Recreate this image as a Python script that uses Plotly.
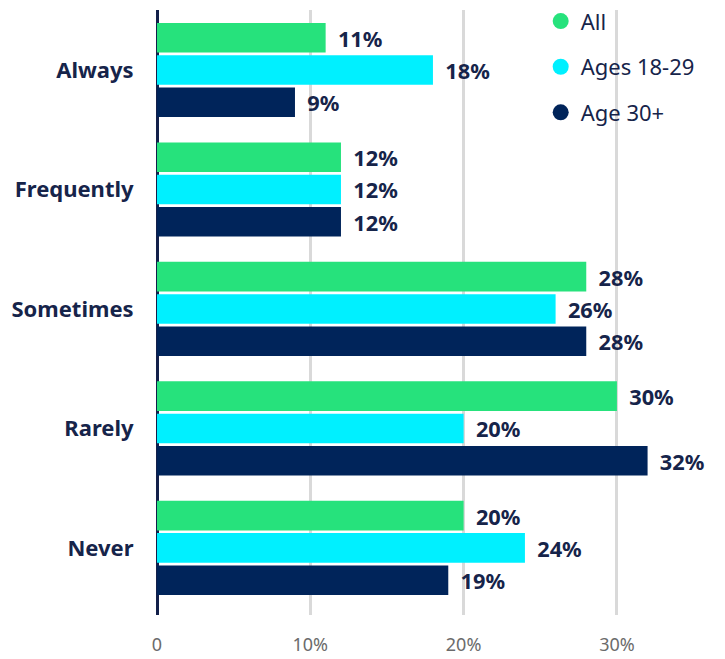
import plotly.graph_objects as go

categories = ["Always", "Frequently", "Sometimes", "Rarely", "Never"]
series_names = ["All", "Ages 18-29", "Age 30+"]
all_vals = [11, 12, 28, 30, 20]
young_vals = [18, 12, 26, 20, 24]
older_vals = [9, 12, 28, 32, 19]
tick_vals = [0, 10, 20, 30]
tick_text = ["0", "10%", "20%", "30%"]

colors = ["#26e27c", "#00f0ff", "#00245a"]
dark = "#16244a"

fig = go.Figure()
for name, vals, col in zip(series_names, [all_vals, young_vals, older_vals], colors):
    fig.add_trace(go.Bar(
        y=categories, x=vals, orientation="h", name=name,
        marker=dict(color=col, line=dict(width=0)),
        text=["\u00a0\u2009" + f"{v}%" for v in vals],
        texttemplate="%{text}", textposition="outside", cliponaxis=False,
        textfont=dict(family="Noto Sans", size=22, color=dark, weight="bold"),
        showlegend=False, hoverinfo="skip",
    ))

for i, (name, col) in enumerate(zip(series_names, colors)):
    fig.add_trace(go.Scatter(
        x=[None], y=[None], mode="markers", name=name, legendgroup=f"g{i}",
        marker=dict(color=col, size=20, symbol="circle"),
    ))

fig.update_layout(
    width=717, height=651,
    margin=dict(l=149, r=0, t=2, b=44, autoexpand=False),
    paper_bgcolor="white", plot_bgcolor="white",
    barmode="group", bargap=0.19, bargroupgap=0.08,
    font=dict(family="Noto Sans", color=dark),
    legend=dict(x=0.6755, xanchor="left", y=1.016, yanchor="top",
                font=dict(size=22, color=dark), tracegroupgap=14,
                bgcolor="rgba(0,0,0,0)"),
    xaxis=dict(range=[0, 37.05], tickvals=tick_vals, ticktext=tick_text,
               showgrid=True, gridcolor="#d9d9d9", gridwidth=3,
               zeroline=True, zerolinecolor="#13204a", zerolinewidth=3,
               ticks="outside", ticklen=13, tickcolor="rgba(0,0,0,0)",
               tickfont=dict(size=18, color="#6b6b6b"), showline=False,
               automargin=False),
    yaxis=dict(range=[4.561, -0.502], showgrid=False,
               ticks="outside", ticklen=18, tickcolor="rgba(0,0,0,0)",
               tickfont=dict(size=22, color=dark, weight="bold"),
               automargin=False),
)

fig.write_html("out.html")
